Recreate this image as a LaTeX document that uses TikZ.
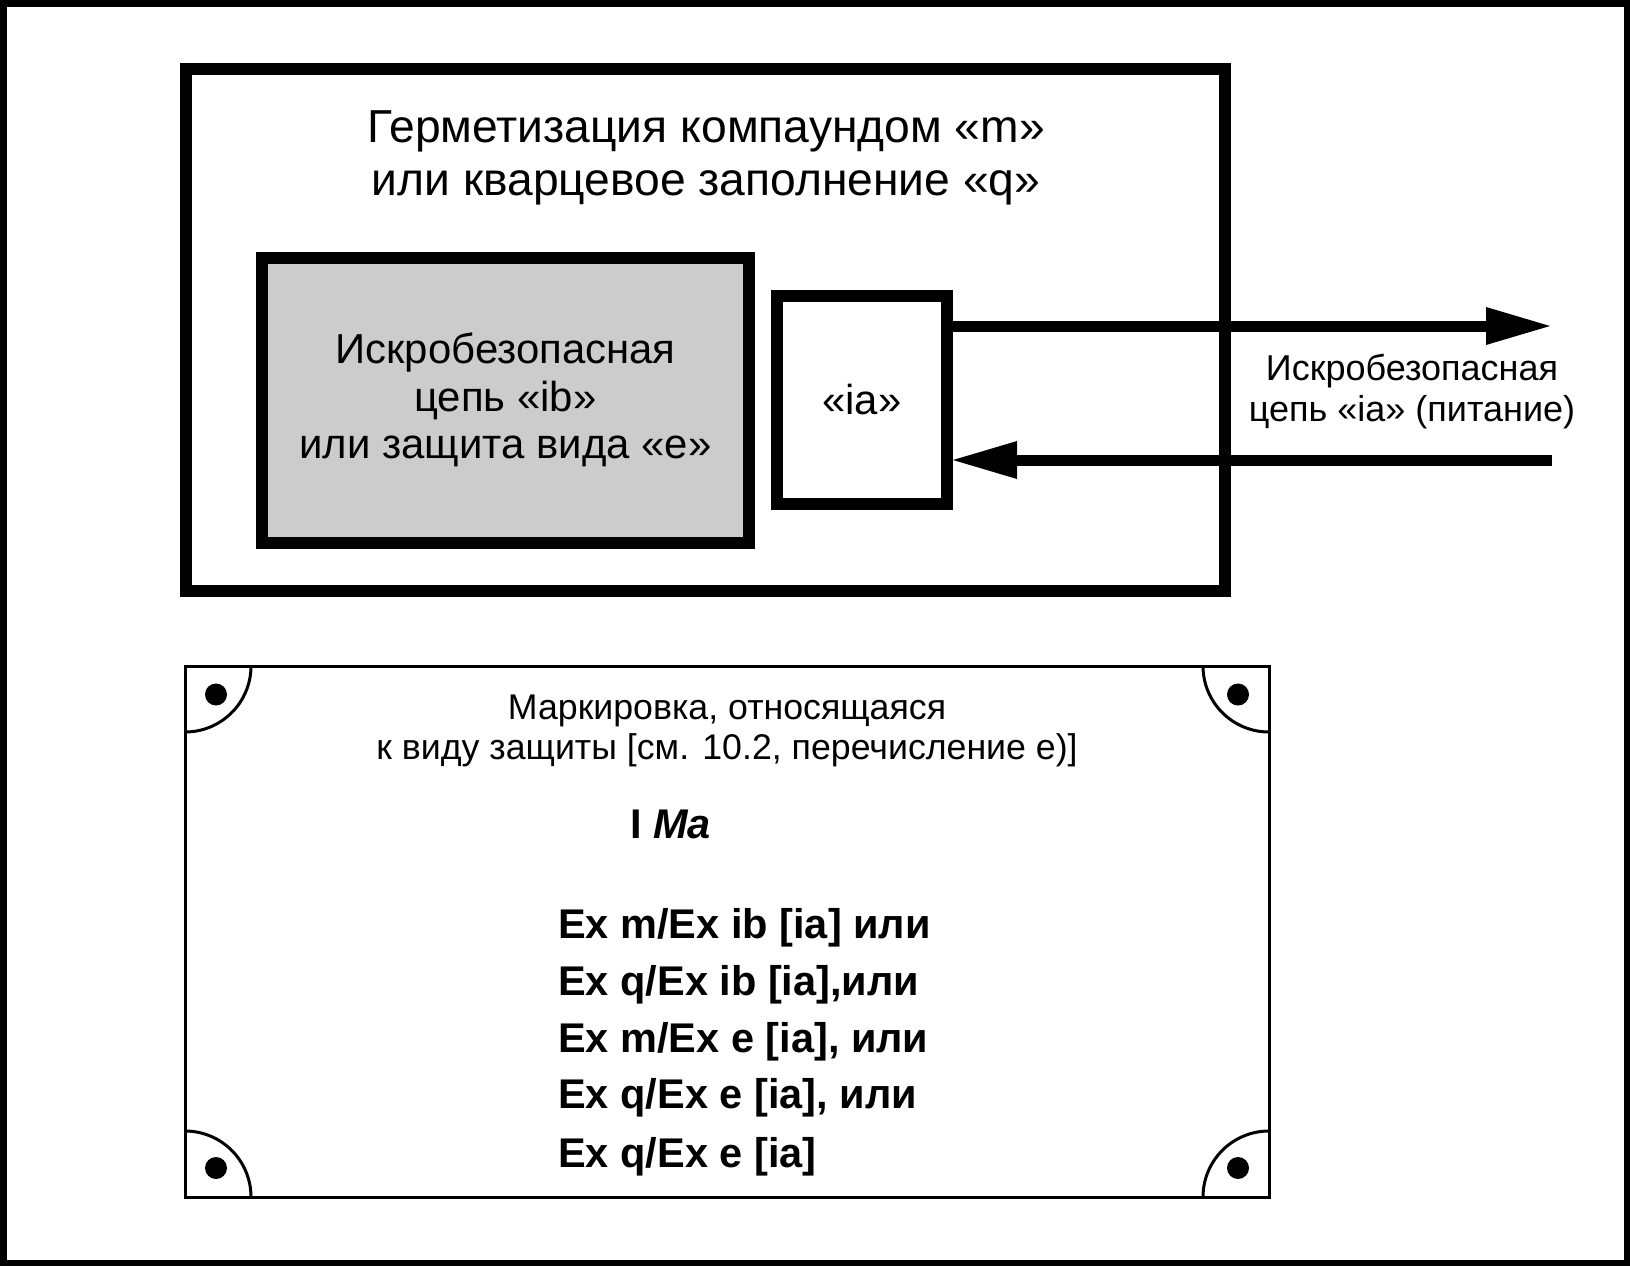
\documentclass[tikz,border=0pt]{standalone}
\usepackage{fontspec}
\setmainfont{Liberation Sans}
\usetikzlibrary{positioning}
\usetikzlibrary{arrows.meta}
\definecolor{fillgray}{RGB}{204,204,204}

\begin{document}
\begin{tikzpicture}[x=1pt, y=-1pt, inner sep=0pt,
		thickbox/.style={draw, line width=12pt},
		bigarrow/.style={line width=11pt, -{Triangle[length=64pt, width=38pt, line width=0pt]}},
		exline/.style={font=\fontsize{41.5}{47}\selectfont\bfseries, anchor=base west}]
			\useasboundingbox (0,0) rectangle (1630,1266);
			% Frame
			\draw[line width=6.5pt] (3.25,3.25) rectangle (1626.75,1262.75);
			% Enclosure
			\node[thickbox, minimum width=1039pt, minimum height=522pt] (pot) at (705.5,329.5) {};
			\node[font=\fontsize{46.2}{53}\selectfont, align=center] (title) at (706,158) {Герметизация компаундом «m»\\или кварцевое заполнение «q»};
			\node[thickbox, fill=fillgray, minimum width=487pt, minimum height=285pt, align=center, font=\fontsize{41.9}{47.5}\selectfont] (ib) at (505.5,400.3) {Искробезопасная\\цепь «ib»\\или защита вида «e»};
			\node[thickbox, minimum width=170.5pt, minimum height=208pt, font=\fontsize{41.9}{47.5}\selectfont] (ia) at (861.75,400) {«ia»};
			% Circuit
			\coordinate (outend) at (1550,326);
			\coordinate (inend) at (1552,460);
			\draw[bigarrow] (ia.east |- outend) -- (outend);
			\draw[bigarrow] (inend) -- (ia.east |- inend);
			\node[font=\fontsize{36}{41}\selectfont, align=center] (circuit) at (1412,392) {Искробезопасная\\цепь «ia» (питание)};
			% Plate
			\node[draw, line width=3pt, outer sep=0pt, minimum width=1084pt, minimum height=531pt] (plate) at (727,931.5) {};
			\draw[line width=3pt] (plate.north west) ++(66,0) arc[start angle=0, end angle=90, radius=66];
			\draw[line width=3pt] (plate.north east) ++(-66,0) arc[start angle=180, end angle=90, radius=66];
			\draw[line width=3pt] (plate.south west) ++(0,-66) arc[start angle=270, end angle=360, radius=66];
			\draw[line width=3pt] (plate.south east) ++(-66,0) arc[start angle=180, end angle=270, radius=66];
			\fill (plate.north west) ++(31,28.5) circle[radius=11];
			\fill (plate.north east) ++(-31,28.5) circle[radius=11];
			\fill (plate.south west) ++(31,-29) circle[radius=11];
			\fill (plate.south east) ++(-31,-29) circle[radius=11];
			\node[font=\fontsize{35.7}{40}\selectfont, align=center] (mark) at (727,731) {Маркировка, относящаяся\\к виду защиты [см. 10.2, перечисление е)]};
			\node[exline] (group) at (630,838) {I \textit{Ma}};
			\node[exline] (ex1) at (558,938) {Ex m/Ex ib [ia] или};
			\node[exline] (ex2) at (558,995) {Ex q/Ex ib [ia],или};
			\node[exline] (ex3) at (558,1052) {Ex m/Ex e [ia], или};
			\node[exline] (ex4) at (558,1108) {Ex q/Ex e [ia], или};
			\node[exline] (ex5) at (558,1167) {Ex q/Ex e [ia]};
		\end{tikzpicture}
\end{document}
